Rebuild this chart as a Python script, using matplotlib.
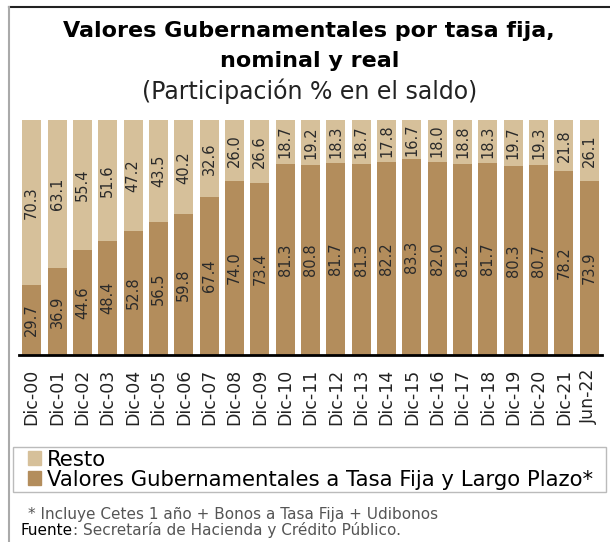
import matplotlib
matplotlib.use("Agg")
import matplotlib.pyplot as plt
from matplotlib.patches import Patch, Rectangle
from matplotlib.legend_handler import HandlerPatch
from matplotlib.lines import Line2D

plt.rcParams['font.family'] = ['DejaVu Sans']

# data
periodos = ['Dic-00', 'Dic-01', 'Dic-02', 'Dic-03', 'Dic-04', 'Dic-05', 'Dic-06',
            'Dic-07', 'Dic-08', 'Dic-09', 'Dic-10', 'Dic-11', 'Dic-12', 'Dic-13',
            'Dic-14', 'Dic-15', 'Dic-16', 'Dic-17', 'Dic-18', 'Dic-19', 'Dic-20',
            'Dic-21', 'Jun-22']
tasa_fija = [29.7, 36.9, 44.6, 48.4, 52.8, 56.5, 59.8, 67.4, 74.0, 73.4, 81.3, 80.8,
             81.7, 81.3, 82.2, 83.3, 82.0, 81.2, 81.7, 80.3, 80.7, 78.2, 73.9]
resto = [70.3, 63.1, 55.4, 51.6, 47.2, 43.5, 40.2, 32.6, 26.0, 26.6, 18.7, 19.2,
         18.3, 18.7, 17.8, 16.7, 18.0, 18.8, 18.3, 19.7, 19.3, 21.8, 26.1]

c_dark = '#B38D5C'
c_light = '#D6C09A'

W, H = 610, 542
fig = plt.figure(figsize=(W / 100, H / 100), dpi=100)
ax = fig.add_axes([19 / W, 1 - 355 / H, 583 / W, 235 / H])

x = range(len(periodos))
ax.bar(x, tasa_fija, width=0.75, color=c_dark)
ax.bar(x, resto, width=0.75, bottom=tasa_fija, color=c_light)

for i, (a, b) in enumerate(zip(tasa_fija, resto)):
    ax.text(i, a / 2, f'{a:.1f}', rotation=90, ha='center', va='center',
            fontsize=10.5, color='#2a2a2a')
    ax.text(i, a + b / 2, f'{b:.1f}', rotation=90, ha='center', va='center',
            fontsize=10.5, color='#2a2a2a')

ax.set_xlim(-0.5, len(periodos) - 0.5)
ax.set_ylim(0, 100)
ax.set_yticks([])
ax.set_xticks(list(x))
ax.set_xticklabels(periodos, rotation=90, fontsize=12.5, color='#222222')
ax.tick_params(axis='x', length=0, pad=10)
for s in ['top', 'right', 'left']:
    ax.spines[s].set_visible(False)
ax.spines['bottom'].set_linewidth(2)
ax.spines['bottom'].set_color('black')

# titles
fig.text(0.507, 1 - 31 / H, 'Valores Gubernamentales por tasa fija,',
         ha='center', va='center', fontsize=16, fontweight='bold')
fig.text(0.507, 1 - 61 / H, 'nominal y real',
         ha='center', va='center', fontsize=16, fontweight='bold')
fig.text(0.507, 1 - 91 / H, '(Participación % en el saldo)',
         ha='center', va='center', fontsize=17, color='#222222')


# legend, square marker sits on the right of the handle box
def square(legend, orig_handle, xdescent, ydescent, width, height, fontsize):
    return Rectangle((-xdescent + width - height, -ydescent), height, height)


handles = [Patch(color=c_light, label='Resto'),
           Patch(color=c_dark, label='Valores Gubernamentales a Tasa Fija y Largo Plazo*')]
leg = fig.legend(handles=handles, loc='upper left',
                 bbox_to_anchor=(13 / W, 1 - 492 / H, 593 / W, 45 / H),
                 bbox_transform=fig.transFigure, mode='expand',
                 handler_map={Patch: HandlerPatch(patch_func=square)},
                 fontsize=15.3, frameon=True, fancybox=False, handlelength=1.2,
                 handleheight=0.58, handletextpad=0.28, borderpad=0.12,
                 labelspacing=0.0, borderaxespad=0)
leg.get_frame().set_edgecolor('#AAAAAA')
leg.get_frame().set_linewidth(1)

# notes
fig.text(28 / W, 1 - 514 / H, '* Incluye Cetes 1 año + Bonos a Tasa Fija + Udibonos',
         ha='left', va='center', fontsize=11, color='#555555')
fuente = fig.text(21 / W, 1 - 538 / H, 'Fuente', ha='left', va='bottom',
                  fontsize=11, color='black')
ax.annotate(': Secretaría de Hacienda y Crédito Público.', xy=(1, 0),
            xycoords=fuente, ha='left', va='bottom', fontsize=11,
            color='#555555', annotation_clip=False)

# frame lines
fig.add_artist(Line2D([9 / W, 1], [1 - 7 / H, 1 - 7 / H], color='#222222', lw=1.5,
                      transform=fig.transFigure))
fig.add_artist(Line2D([8.5 / W, 8.5 / W], [0, 1 - 7 / H], color='#AAAAAA', lw=1.5,
                      transform=fig.transFigure))

fig.savefig('out.png', dpi=100)
